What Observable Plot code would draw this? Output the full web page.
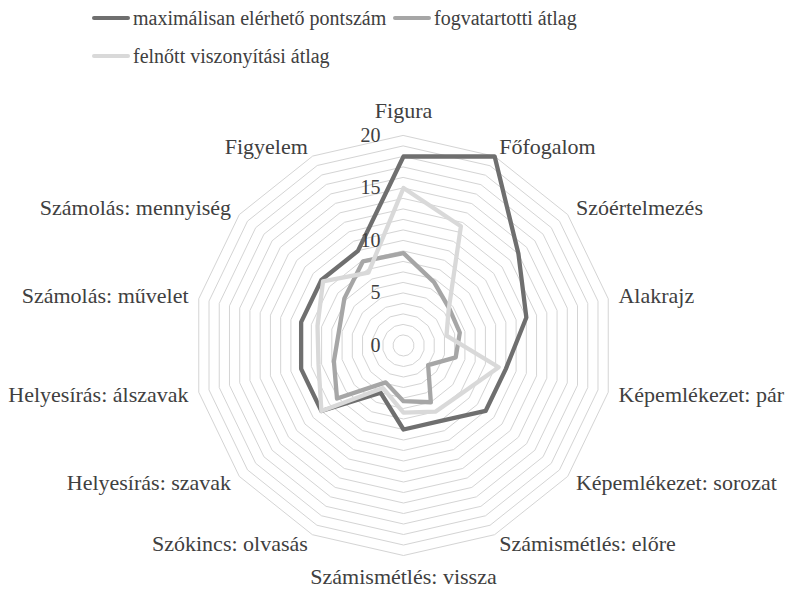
<!DOCTYPE html>
<html><head><meta charset="utf-8">
<script src="https://cdn.jsdelivr.net/npm/d3@7"></script>
<script src="https://cdn.jsdelivr.net/npm/@observablehq/plot@0.6"></script>
<style>
body{margin:0;background:#fff;font-family:"Liberation Serif","Tinos","DejaVu Serif",serif;color:#404040;}
#legend{position:relative;height:80px;width:788px;font-size:20px;}
.item{position:absolute;display:flex;align-items:center;white-space:nowrap;height:24px;line-height:24px;}
.sw{width:38px;height:4px;border-radius:2px;margin-right:3px;}
#chart svg{display:block;}
</style></head><body>
<div id="legend"></div>
<div id="chart"></div>
<script>
const categories = ["Figura","Főfogalom","Szóértelmezés","Alakrajz","Képemlékezet: pár","Képemlékezet: sorozat","Számismétlés: előre","Számismétlés: vissza","Szókincs: olvasás","Helyesírás: szavak","Helyesírás: álszavak","Számolás: művelet","Számolás: mennyiség","Figyelem"];
const maxScore    = [18, 20, 14, 12, 10, 10, 8, 8, 5, 10, 10, 10, 10, 10];
const prisonerAvg = [8.8, 6.7, 5.6, 5.5, 5.1, 3.0, 6.0, 5.3, 3.9, 8.1, 6.8, 6.3, 7.2, 8.9];
const adultAvg    = [15, 12.6, 5.5, 4.2, 9.3, 7.2, 7.0, 6.4, 4.5, 10, 8.3, 8.4, 9.8, 7.7];
const tickValues  = [0, 5, 10, 15, 20];
const seriesNames = ["maximálisan elérhető pontszám", "fogvatartotti átlag", "felnőtt viszonyítási átlag"];
const seriesColors = ["#6f6f6f", "#a6a6a6", "#d9d9d9"];

const n = categories.length;
const ang = i => i * 2 * Math.PI / n;
const px = (i, r) => r * Math.sin(ang(i));
const py = (i, r) => r * Math.cos(ang(i));

const FONT = "'Liberation Serif','Tinos','DejaVu Serif',serif";

// legend
const legendPos = [[92, 6], [393, 6], [92, 44]];
const lg = document.getElementById("legend");
seriesNames.forEach((s, k) => {
  const d = document.createElement("div");
  d.className = "item";
  d.style.left = legendPos[k][0] + "px";
  d.style.top = legendPos[k][1] + "px";
  d.innerHTML = `<span class="sw" style="background:${seriesColors[k]}"></span><span>${s}</span>`;
  lg.appendChild(d);
});

// data tables
const rings = [];
for (let k = 1; k <= 20; k++) categories.forEach((c, i) => rings.push({ring: k, x: px(i, k), y: py(i, k)}));
const seriesData = [maxScore, prisonerAvg, adultAvg];
const lines = [];
seriesData.forEach((vals, s) => vals.forEach((v, i) => lines.push({series: seriesNames[s], x: px(i, v), y: py(i, v)})));
const labels = categories.map((c, i) => {
  const r = i === 0 ? 22.35 : i === 7 ? 22.0 : 21;
  return {text: c, x: px(i, r), y: py(i, r), anchor: (i === 0 || i === 7) ? "middle" : (i < 7 ? "start" : "end")};
});

const W = 788, H = 509, cx = 403, cy = 265, unit = 10.5;
const chart = Plot.plot({
  width: W, height: H,
  marginTop: 0, marginRight: 0, marginBottom: 0, marginLeft: 0,
  x: {domain: [-cx / unit, (W - cx) / unit], axis: null},
  y: {domain: [-(H - cy) / unit, cy / unit], axis: null},
  color: {domain: seriesNames, range: seriesColors},
  style: {fontFamily: FONT, fontSize: "20px", color: "#404040", background: "#fff"},
  marks: [
    Plot.line(rings, {x: "x", y: "y", z: "ring", curve: "linear-closed", stroke: "#d4d4d4", strokeWidth: 1}),
    Plot.line(lines, {x: "x", y: "y", z: "series", stroke: "series", curve: "linear-closed", strokeWidth: 4.3, strokeLinejoin: "round"}),
    Plot.text(tickValues, {x: 0, y: d => d, text: d => String(d), textAnchor: "end", dx: -23, fill: "#404040", fontSize: 20, fontFamily: FONT}),
    Plot.text(labels.filter(d => d.anchor === "start"), {x: "x", y: "y", text: "text", textAnchor: "start", fill: "#404040", fontSize: 22, fontFamily: FONT}),
    Plot.text(labels.filter(d => d.anchor === "end"), {x: "x", y: "y", text: "text", textAnchor: "end", fill: "#404040", fontSize: 22, fontFamily: FONT}),
    Plot.text(labels.filter(d => d.anchor === "middle"), {x: "x", y: "y", text: "text", textAnchor: "middle", fill: "#404040", fontSize: 22, fontFamily: FONT})
  ]
});
document.getElementById("chart").appendChild(chart);
</script>
</body></html>
